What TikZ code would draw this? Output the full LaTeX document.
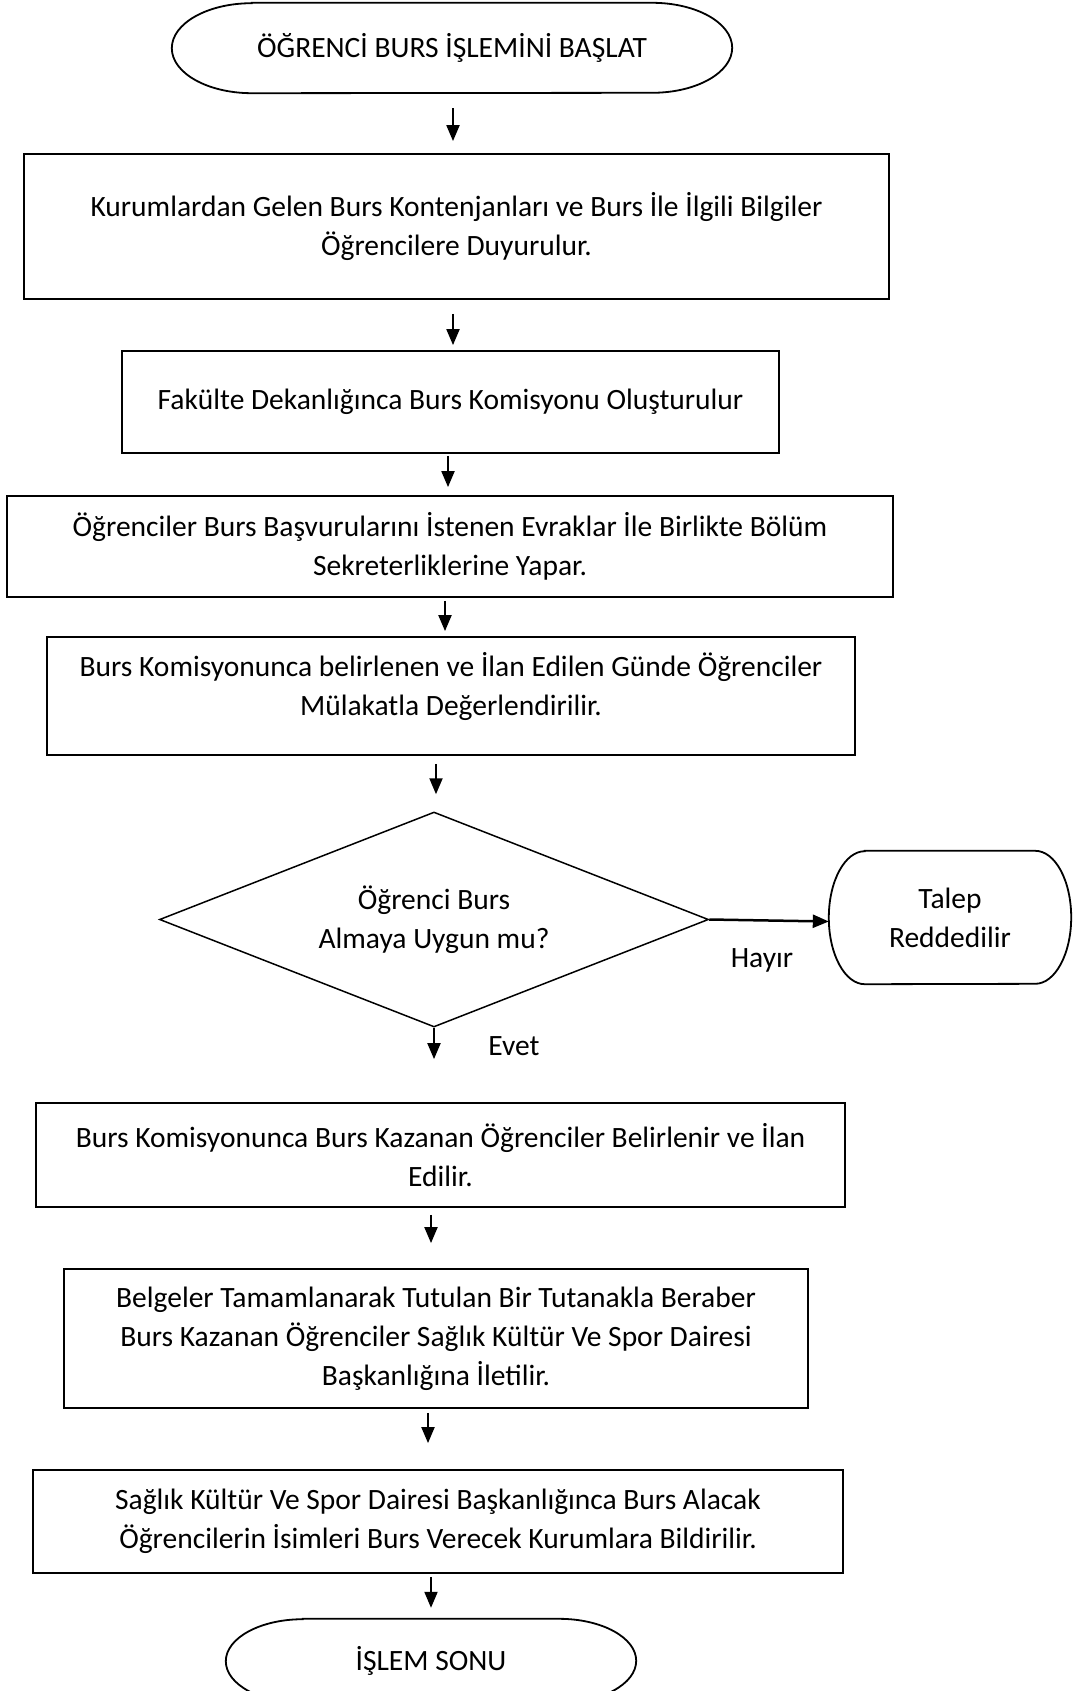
\documentclass[tikz,border=0pt]{standalone}
\usepackage{fontspec}
\setmainfont{Carlito}
\usetikzlibrary{arrows.meta,shapes.geometric}
\tikzset{
  txt/.style={font=\fontsize{29.5}{38.8}\selectfont, align=center, inner sep=0pt},
  box/.style={txt, draw, line width=1.8pt, rectangle},
  termline/.style={line width=1.8pt},
  arr/.style={line width=2pt, -{Triangle[length=16pt,width=13pt]}},
  lbl/.style={font=\fontsize{29.5}{38.8}\selectfont, inner sep=0pt}
}
\begin{document}
\begin{tikzpicture}[x=1pt,y=-1pt]
\path[clip] (0,0) rectangle (1075,1691);
\fill[white] (0,0) rectangle (1075,1691);

% start terminator
\node[txt, minimum width=560pt, minimum height=90pt] (start) at (452,48) {ÖĞRENCİ BURS İŞLEMİNİ BAŞLAT};
\draw[termline] ([xshift=80pt]start.north west) -- ([xshift=-80pt]start.north east)
  arc[start angle=90,end angle=-90,x radius=80pt,y radius=45pt]
  -- ([xshift=80pt]start.south west)
  arc[start angle=270,end angle=90,x radius=80pt,y radius=45pt] -- cycle;

\node[box, minimum width=865pt, minimum height=145pt] (b1) at (456.5,226.5)
  {Kurumlardan Gelen Burs Kontenjanları ve Burs İle İlgili Bilgiler\\Öğrencilere Duyurulur.};
\node[box, minimum width=657pt, minimum height=102pt] (b2) at (450.5,402)
  {Fakülte Dekanlığınca Burs Komisyonu Oluşturulur};
\node[box, minimum width=886pt, minimum height=101pt] (b3) at (450,546.5)
  {Öğrenciler Burs Başvurularını İstenen Evraklar İle Birlikte Bölüm\\Sekreterliklerine Yapar.};
\node[box, minimum width=808pt, minimum height=118pt] (b4) at (451,696)
  {Burs Komisyonunca belirlenen ve İlan Edilen Günde Öğrenciler\\Mülakatla Değerlendirilir.\\[-14pt]\mbox{}};

\node[txt, draw, diamond, aspect=2.55, minimum width=549pt, minimum height=215pt, line width=1.5pt] (dia) at (434,919.5)
  {Öğrenci Burs\\Almaya Uygun mu?};

\node[txt, minimum width=242pt, minimum height=133pt] (talep) at (950,917.5) {Talep\\Reddedilir};
\draw[termline] ([xshift=36pt]talep.north west) -- ([xshift=-36pt]talep.north east)
  arc[start angle=90,end angle=-90,x radius=36pt,y radius=66.5pt]
  -- ([xshift=36pt]talep.south west)
  arc[start angle=270,end angle=90,x radius=36pt,y radius=66.5pt] -- cycle;

\node[box, minimum width=809pt, minimum height=104pt] (b5) at (440.5,1155)
  {Burs Komisyonunca Burs Kazanan Öğrenciler Belirlenir ve İlan\\Edilir.};
\node[box, minimum width=744pt, minimum height=139pt] (b6) at (436,1338.5)
  {Belgeler Tamamlanarak Tutulan Bir Tutanakla Beraber\\Burs Kazanan Öğrenciler Sağlık Kültür Ve Spor Dairesi\\Başkanlığına İletilir.};
\node[box, minimum width=810pt, minimum height=103pt] (b7) at (438,1521.5)
  {Sağlık Kültür Ve Spor Dairesi Başkanlığınca Burs Alacak\\Öğrencilerin İsimleri Burs Verecek Kurumlara Bildirilir.};

% end terminator
\node[txt, minimum width=410pt, minimum height=84pt] (end) at (431,1661) {İŞLEM SONU};
\draw[termline] ([xshift=77pt]end.north west) -- ([xshift=-77pt]end.north east)
  arc[start angle=90,end angle=-90,x radius=77pt,y radius=42pt]
  -- ([xshift=77pt]end.south west)
  arc[start angle=270,end angle=90,x radius=77pt,y radius=42pt] -- cycle;

% labels
\node[lbl] (hayir) at (762,960) {Hayır};
\node[lbl] (evet) at (514,1046) {Evet};

% connectors
\draw[arr, shorten <=15pt, shorten >=12pt] ([xshift=1pt]start.south) -- ([xshift=1pt]start.south |- b1.north);
\draw[arr, shorten <=14pt, shorten >=5pt] ([xshift=-3.5pt]b1.south) -- ([xshift=-3.5pt]b1.south |- b2.north);
\draw[arr, shorten <=2pt, shorten >=8pt] ([xshift=-2.5pt]b2.south) -- ([xshift=-2.5pt]b2.south |- b3.north);
\draw[arr, shorten <=3pt, shorten >=5pt] ([xshift=-5pt]b3.south) -- ([xshift=-5pt]b3.south |- b4.north);
\draw[arr, shorten <=8pt, shorten >=17pt] ([xshift=-15pt]b4.south) -- ([xshift=-15pt]b4.south |- dia.north);
\draw[arr, shorten >=43pt] (dia.south) -- (dia.south |- b5.north);
\draw[arr, line width=2.5pt] (dia.east) -- ([yshift=-4pt]talep.west);
\draw[arr, shorten <=7pt, shorten >=25pt] ([xshift=-9.5pt]b5.south) -- ([xshift=-9.5pt]b5.south |- b6.north);
\draw[arr, shorten <=4pt, shorten >=26pt] ([xshift=-8pt]b6.south) -- ([xshift=-8pt]b6.south |- b7.north);
\draw[arr, shorten <=3pt, shorten >=11pt] ([xshift=-7pt]b7.south) -- ([xshift=-7pt]b7.south |- end.north);
\end{tikzpicture}
\end{document}
